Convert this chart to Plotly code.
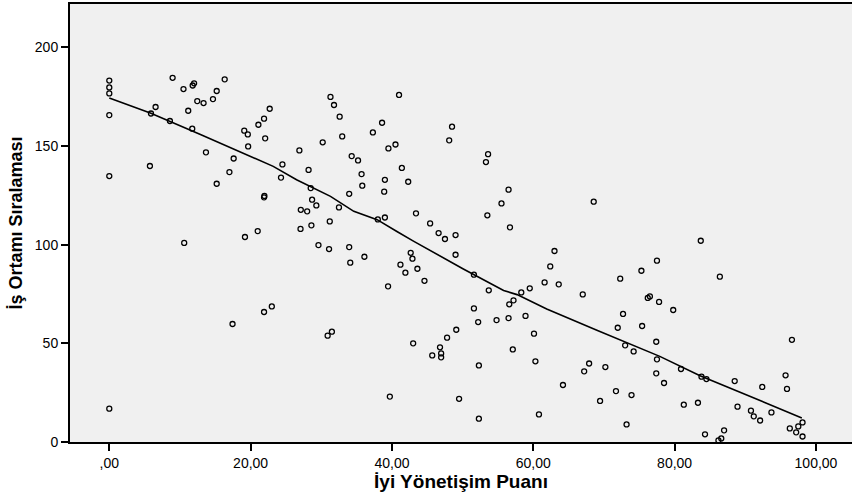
import plotly.graph_objects as go

# Scatter data: İyi Yönetişim Puanı (x) vs İş Ortamı Sıralaması (y)
gov_score = [
    0, 0, 0, 0, 0, 0,
    5.75, 5.9, 6.55, 8.58, 8.96, 10.5, 10.6, 11.17, 11.74, 11.8, 12.0, 12.45, 13.34, 13.68,
    15.2, 14.67, 15.2, 16.33, 17.0, 17.6, 17.44, 19.1, 19.6, 19.65, 19.2, 21.0, 21.1, 21.9,
    22.06, 21.9, 21.95, 21.9, 22.7, 23.0, 24.3, 24.5, 26.9, 27.1, 28.0, 27.06,
    31.3, 31.8, 32.6, 32.96, 30.2, 28.2, 28.5, 28.7, 29.3, 28.6, 31.2, 32.5, 33.95, 34.3,
    35.2, 35.7, 35.8, 37.3, 38.6, 39.5, 40.5, 41.0, 41.4, 42.3, 39.0, 38.9, 38.0, 39.0,
    43.4, 45.4, 46.6, 47.5, 49.0, 48.1, 48.5, 53.3, 53.6, 56.5, 55.5, 56.7, 53.5, 63.0,
    68.55, 83.7,
    29.6, 31.1, 33.95, 34.1, 36.1, 49.0, 42.65, 42.9, 41.2, 41.9, 43.6, 44.6, 39.45, 51.6,
    53.7, 51.6, 52.2, 54.8, 56.5, 56.6, 57.2, 58.3, 59.5, 58.9, 60.1, 57.1, 60.3, 61.6,
    62.4, 63.6, 64.2, 60.8, 52.3, 49.5, 39.7, 52.3, 49.1, 47.8, 46.8, 45.7, 46.96, 46.96,
    43.0, 30.9, 31.5,
    77.5, 75.3, 72.3, 86.4, 67.0, 76.2, 76.5, 77.8, 79.8, 72.7, 75.4, 71.95, 77.4, 73.0,
    74.2, 77.5, 96.6, 67.9, 67.2, 70.2, 77.4, 78.5, 80.9, 83.8, 84.5, 88.5, 92.4, 95.7,
    95.9, 71.7, 73.9, 69.45, 81.3, 83.3, 88.9, 90.8, 91.2, 92.1, 93.7, 73.2, 84.3, 87.0,
    86.6, 86.2, 96.3, 97.5, 98.1, 97.2, 98.1,
]
work_rank = [
    183.2, 179.7, 176.7, 165.7, 134.8, 16.9,
    139.9, 166.5, 169.8, 162.7, 184.6, 178.9, 100.9, 167.9, 158.8, 180.7, 181.8, 172.8, 171.8, 146.8,
    177.9, 173.8, 130.9, 183.8, 136.8, 143.7, 59.8, 157.8, 155.9, 149.8, 103.9, 106.9, 160.8, 163.9,
    153.9, 124.0, 124.7, 65.9, 168.9, 68.7, 134.0, 140.7, 147.8, 117.7, 116.9, 108.0,
    174.9, 170.8, 164.9, 154.9, 151.9, 137.9, 128.7, 122.8, 119.9, 109.8, 111.8, 118.9, 125.8, 144.9,
    142.7, 135.8, 129.9, 156.9, 161.8, 148.8, 150.8, 175.9, 138.9, 131.9, 132.9, 126.9, 112.8, 113.8,
    115.9, 110.8, 105.9, 102.9, 104.9, 152.9, 159.8, 141.9, 145.9, 127.9, 120.9, 108.8, 114.9, 96.8,
    121.8, 102.0,
    99.8, 97.8, 98.8, 90.9, 93.9, 94.9, 95.9, 92.9, 89.9, 85.8, 87.8, 81.7, 78.9, 84.8,
    76.9, 67.7, 60.8, 61.8, 62.8, 69.8, 71.8, 75.8, 77.9, 63.9, 54.9, 46.9, 40.9, 80.9,
    89.0, 79.9, 28.9, 14.0, 11.8, 21.9, 23.0, 38.8, 56.9, 52.9, 48.0, 43.9, 44.9, 42.9,
    50.0, 53.9, 55.9,
    91.9, 86.8, 82.8, 83.8, 74.8, 73.0, 73.8, 71.0, 66.9, 64.9, 58.8, 57.9, 50.8, 49.0,
    45.9, 41.9, 51.8, 39.8, 35.8, 38.0, 34.8, 29.9, 37.0, 33.1, 31.9, 30.9, 27.9, 33.8,
    26.9, 25.8, 23.8, 20.8, 18.9, 19.9, 17.9, 15.9, 13.0, 10.9, 15.0, 8.9, 3.9, 5.9,
    1.8, 0.8, 6.9, 7.9, 9.9, 4.9, 2.8,
]

# Smoothed fit line
fit_x = [0, 5.8, 12.9, 23.2, 26.5, 31.3, 34.6, 37.9, 40.7, 43.1, 50.1, 52.5,
         55.8, 57.7, 61.9, 69.0, 77.9, 83.6, 90.7, 98.0]
fit_y = [174.3, 166.7, 155.8, 139.7, 132.9, 124.5, 116.9, 112.7, 106.7, 101.7, 87.7, 83.1,
         76.8, 74.7, 67.4, 56.6, 43.4, 33.6, 23.1, 12.2]

x_tickvals = [0, 20, 40, 60, 80, 100]
x_ticktext = [",00", "20,00", "40,00", "60,00", "80,00", "100,00"]
y_tickvals = [0, 50, 100, 150, 200]
y_ticktext = ["0", "50", "100", "150", "200"]

x_title = "İyi Yönetişim Puanı"
y_title = "İş Ortamı Sıralaması"

fig = go.Figure()
fig.add_trace(go.Scatter(
    x=gov_score, y=work_rank, mode="markers",
    marker=dict(symbol="circle-open", size=5, color="black", line=dict(width=1.3, color="black")),
    showlegend=False, hoverinfo="skip",
))
fig.add_trace(go.Scatter(
    x=fit_x, y=fit_y, mode="lines",
    line=dict(color="black", width=1.6),
    showlegend=False, hoverinfo="skip",
))

tick_font = dict(family="Liberation Sans, Arial, sans-serif", size=14, color="black")

fig.update_layout(
    width=852, height=494,
    margin=dict(l=70, r=0, t=4, b=52),
    paper_bgcolor="white",
    plot_bgcolor="#f0f0f0",
    xaxis=dict(
        range=[-5.56, 105.1],
        tickvals=x_tickvals, ticktext=x_ticktext,
        ticks="outside", ticklen=7, tickwidth=2, tickcolor="black",
        showline=True, linecolor="black", linewidth=2, mirror=True,
        showgrid=False, zeroline=False, automargin=False,
        tickfont=tick_font,
        title=dict(text=x_title, standoff=2,
                   font=dict(family="Liberation Sans, Arial, sans-serif", size=19, color="black", weight="bold")),
    ),
    yaxis=dict(
        range=[0, 222],
        tickvals=y_tickvals, ticktext=y_ticktext,
        ticks="outside", ticklen=7, tickwidth=2, tickcolor="black",
        showline=True, linecolor="black", linewidth=2,
        showgrid=False, zeroline=False, automargin=False,
        tickfont=tick_font,
        title=dict(text=y_title, standoff=8,
                   font=dict(family="Liberation Sans Narrow, Arial Narrow, Liberation Sans, sans-serif", size=18, color="black", weight="bold")),
    ),
)

fig.write_html(
    "out.html",
    config={"displayModeBar": False, "staticPlot": True},
    post_script="document.body.style.margin='0';document.body.style.padding='0';document.body.style.overflow='hidden';",
)
